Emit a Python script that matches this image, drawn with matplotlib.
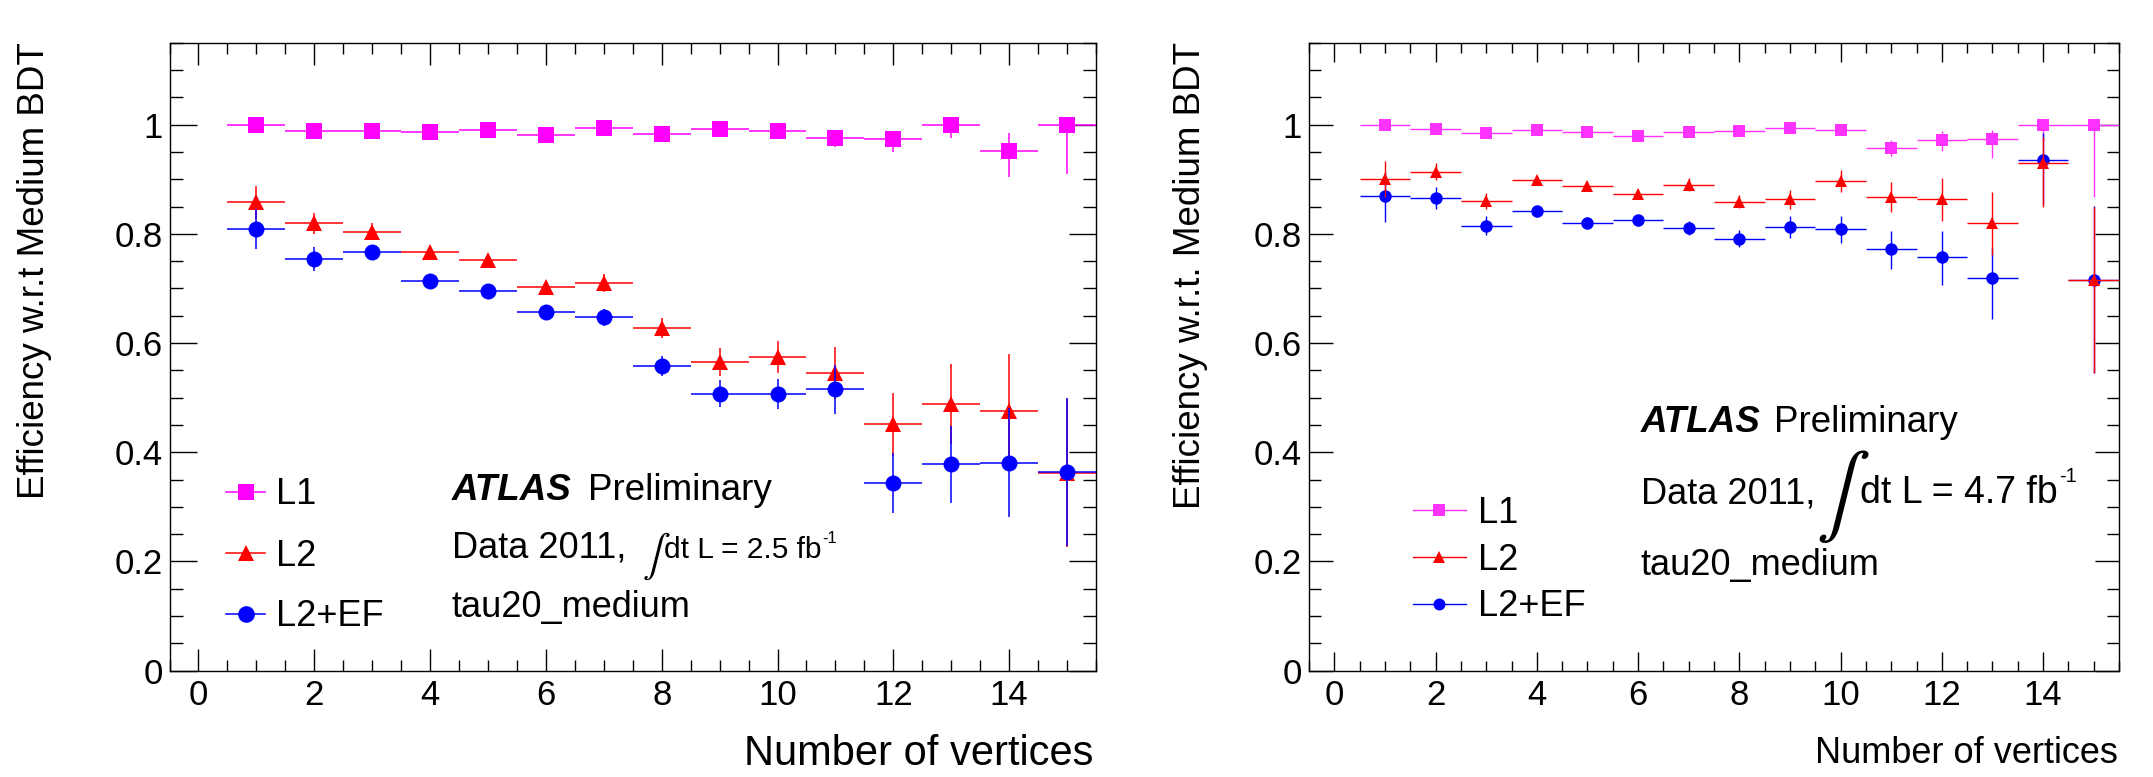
import numpy as np
import matplotlib
matplotlib.use("Agg")
import matplotlib.pyplot as plt
from matplotlib.lines import Line2D
from matplotlib.ticker import MultipleLocator, FormatStrFormatter

plt.rcParams['font.family'] = ['Liberation Sans', 'DejaVu Sans']

# Data: trigger efficiency vs number of vertices
nvtx = np.arange(1, 16)

# left panel, 2.5 fb-1
l1_25 = [1.000, 0.988, 0.989, 0.987, 0.990, 0.981, 0.993, 0.982, 0.992, 0.988, 0.975, 0.973, 1.000, 0.952, 1.000]
l1_25_lo = [0.006, 0.006, 0.006, 0.006, 0.006, 0.006, 0.006, 0.006, 0.007, 0.008, 0.016, 0.024, 0.025, 0.048, 0.091]
l1_25_hi = [0.0, 0.005, 0.005, 0.005, 0.005, 0.006, 0.005, 0.006, 0.005, 0.006, 0.014, 0.016, 0.0, 0.033, 0.0]
l2_25 = [0.858, 0.819, 0.804, 0.767, 0.752, 0.702, 0.710, 0.627, 0.565, 0.575, 0.545, 0.451, 0.488, 0.475, 0.362]
l2_25_err = [0.030, 0.020, 0.015, 0.010, 0.010, 0.010, 0.017, 0.018, 0.026, 0.029, 0.047, 0.057, 0.073, 0.105, 0.135]
ef_25 = [0.809, 0.754, 0.767, 0.714, 0.695, 0.656, 0.647, 0.558, 0.507, 0.507, 0.515, 0.343, 0.378, 0.381, 0.364]
ef_25_err = [0.037, 0.022, 0.010, 0.008, 0.008, 0.012, 0.016, 0.019, 0.025, 0.028, 0.045, 0.055, 0.071, 0.100, 0.135]

# right panel, 4.7 fb-1
l1_47 = [1.000, 0.992, 0.985, 0.991, 0.987, 0.979, 0.987, 0.988, 0.994, 0.990, 0.958, 0.972, 0.973, 1.000, 1.000]
l1_47_lo = [0.005, 0.005, 0.005, 0.005, 0.005, 0.006, 0.006, 0.006, 0.006, 0.007, 0.016, 0.020, 0.035, 0.030, 0.133]
l1_47_hi = [0.0, 0.004, 0.005, 0.004, 0.005, 0.005, 0.005, 0.005, 0.004, 0.005, 0.014, 0.016, 0.018, 0.0, 0.0]
l2_47 = [0.900, 0.914, 0.860, 0.898, 0.888, 0.873, 0.890, 0.859, 0.863, 0.896, 0.867, 0.863, 0.819, 0.930, 0.715]
l2_47_lo = [0.032, 0.015, 0.015, 0.008, 0.008, 0.010, 0.012, 0.012, 0.018, 0.020, 0.027, 0.039, 0.058, 0.081, 0.170]
l2_47_hi = [0.034, 0.015, 0.015, 0.008, 0.008, 0.010, 0.012, 0.012, 0.018, 0.020, 0.027, 0.039, 0.058, 0.047, 0.135]
ef_47 = [0.869, 0.866, 0.815, 0.841, 0.820, 0.825, 0.810, 0.791, 0.813, 0.808, 0.773, 0.757, 0.719, 0.935, 0.716]
ef_47_lo = [0.047, 0.020, 0.018, 0.010, 0.010, 0.010, 0.013, 0.016, 0.020, 0.025, 0.037, 0.050, 0.075, 0.080, 0.170]
ef_47_hi = [0.045, 0.020, 0.018, 0.010, 0.010, 0.010, 0.013, 0.016, 0.020, 0.025, 0.033, 0.048, 0.055, 0.050, 0.135]

labels = ['L1', 'L2', 'L2+EF']

W, H = 2153, 777
fig = plt.figure(figsize=(W / 100, H / 100), dpi=100)
renderer = fig.canvas.get_renderer()


def fx(x):
    return x / W


def fy(y):
    return 1 - y / H


def style_axes(ax, ymajor_len, yminor_len, xmajor_len, xminor_len):
    ax.set_xlim(-0.5, 15.5)
    ax.set_ylim(0, 1.15)
    ax.xaxis.set_major_locator(MultipleLocator(2))
    ax.xaxis.set_minor_locator(MultipleLocator(0.5))
    ax.yaxis.set_major_locator(MultipleLocator(0.2))
    ax.yaxis.set_minor_locator(MultipleLocator(0.05))
    ax.yaxis.set_major_formatter(FormatStrFormatter('%g'))
    ax.tick_params(which='both', direction='in', top=True, right=True, width=1.0, labelsize=25)
    ax.tick_params(axis='y', which='major', length=ymajor_len, pad=5)
    ax.tick_params(axis='y', which='minor', length=yminor_len)
    ax.tick_params(axis='x', which='major', length=xmajor_len, pad=6)
    ax.tick_params(axis='x', which='minor', length=xminor_len)
    ax.tick_params(axis='y', which='both', labelright=False)
    ax.tick_params(axis='x', which='both', labeltop=False)
    for s in ax.spines.values():
        s.set_linewidth(1.0)


def lumi_text(x, y, lumi, size, sup_y, sup_size):
    # "dt L = X fb" followed by a small "-1" superscript right after it
    t = fig.text(fx(x), fy(y), 'dt L = ' + lumi + ' fb', fontsize=size, va='baseline')
    bb = t.get_window_extent(renderer=renderer)
    fig.text(fx(bb.x1 + 1), fy(sup_y), '-1', fontsize=sup_size, va='baseline')


# ---------------- left panel ----------------
ax1 = fig.add_axes([fx(169.5), fy(670.7), fx(1096 - 169.5), (670.7 - 42.7) / H])
style_axes(ax1, 19.4, 9.4, 15.8, 7.9)
ms_l = 11.5
ax1.errorbar(nvtx, l1_25, xerr=0.5, yerr=[l1_25_lo, l1_25_hi], fmt='s', color='#ff00ff',
             ms=ms_l, mew=0, elinewidth=1.1, capsize=0, zorder=3)
ax1.errorbar(nvtx, l2_25, xerr=0.5, yerr=l2_25_err, fmt='^', color='#ff0000',
             ms=ms_l, mew=0, elinewidth=1.1, capsize=0, zorder=4)
ax1.errorbar(nvtx, ef_25, xerr=0.5, yerr=ef_25_err, fmt='o', color='#0000ff',
             ms=ms_l, mew=0, elinewidth=1.1, capsize=0, zorder=5)

handles_l = [Line2D([0], [0], color='#ff00ff', marker='s', ms=12, mew=0, lw=1.1),
             Line2D([0], [0], color='#ff0000', marker='^', ms=12, mew=0, lw=1.1),
             Line2D([0], [0], color='#0000ff', marker='o', ms=12, mew=0, lw=1.1)]
fig.legend(handles_l, labels, loc='center left', bbox_to_anchor=(fx(225.7), fy(556)),
           bbox_transform=fig.transFigure, frameon=False, fontsize=26, borderpad=0,
           borderaxespad=0, handlelength=1.1, handletextpad=0.28, labelspacing=0.72)

fig.text(fx(452), fy(500), 'ATLAS', fontsize=26.5, fontweight='bold', fontstyle='italic', va='baseline')
fig.text(fx(587.7), fy(500), 'Preliminary', fontsize=26.5, va='baseline')
fig.text(fx(452), fy(558), 'Data 2011,', fontsize=26, va='baseline')
fig.text(fx(652), fy(556), '\u222b', fontsize=30, family='STIXGeneral', ha='center', va='center')
lumi_text(664, 558, '2.5', 21.5, 543, 12)
fig.text(fx(452), fy(617), 'tau20_medium', fontsize=26, va='baseline')

fig.text(fx(1093), fy(765), 'Number of vertices', fontsize=30, ha='right', va='baseline')
fig.text(fx(35), fy(42), 'Efficiency w.r.t Medium BDT', fontsize=26.5, rotation=90,
         ha='center', va='top')

# ---------------- right panel ----------------
ax2 = fig.add_axes([fx(1309), fy(670.7), fx(2119 - 1309), (670.7 - 42.7) / H])
style_axes(ax2, 17.3, 8.6, 13.5, 7.0)
ms_r = 9.0
ax2.errorbar(nvtx, l1_47, xerr=0.5, yerr=[l1_47_lo, l1_47_hi], fmt='s', color='#ff33ff',
             ms=ms_r, mew=0, elinewidth=1.0, capsize=0, zorder=3)
ax2.errorbar(nvtx, ef_47, xerr=0.5, yerr=[ef_47_lo, ef_47_hi], fmt='o', color='#0000ff',
             ms=ms_r, mew=0, elinewidth=1.0, capsize=0, zorder=4)
ax2.errorbar(nvtx, l2_47, xerr=0.5, yerr=[l2_47_lo, l2_47_hi], fmt='^', color='#ff0000',
             ms=ms_r, mew=0, elinewidth=1.0, capsize=0, zorder=5)

handles_r = [Line2D([0], [0], color='#ff33ff', marker='s', ms=8.6, mew=0, lw=1.0),
             Line2D([0], [0], color='#ff0000', marker='^', ms=8.6, mew=0, lw=1.0),
             Line2D([0], [0], color='#0000ff', marker='o', ms=8.6, mew=0, lw=1.0)]
fig.legend(handles_r, labels, loc='center left', bbox_to_anchor=(fx(1412.7), fy(560)),
           bbox_transform=fig.transFigure, frameon=False, fontsize=26, borderpad=0,
           borderaxespad=0, handlelength=1.47, handletextpad=0.33, labelspacing=0.33)

fig.text(fx(1640.6), fy(431.7), 'ATLAS', fontsize=26.5, fontweight='bold', fontstyle='italic', va='baseline')
fig.text(fx(1774), fy(431.7), 'Preliminary', fontsize=26.5, va='baseline')
fig.text(fx(1640.6), fy(503), 'Data 2011,', fontsize=26, va='baseline')
fig.text(fx(1835), fy(497), '\u222b', fontsize=58, family='STIXGeneral', ha='center', va='center')
lumi_text(1860, 503, '4.7', 27, 482, 14.5)
fig.text(fx(1640.6), fy(575), 'tau20_medium', fontsize=26, va='baseline')

fig.text(fx(2118), fy(763), 'Number of vertices', fontsize=26, ha='right', va='baseline')
fig.text(fx(1191), fy(42), 'Efficiency w.r.t. Medium BDT', fontsize=26.5, rotation=90,
         ha='center', va='top')

fig.savefig('out.png', dpi=100)
